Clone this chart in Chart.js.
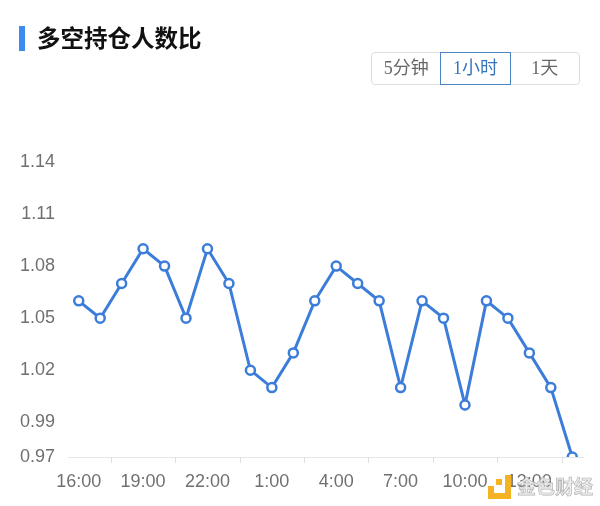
<!DOCTYPE html>
<html>
<head>
<meta charset="utf-8">
<script src="https://cdn.jsdelivr.net/npm/chart.js@4/dist/chart.umd.min.js"></script>
<style>
  body { margin: 0; background: #fff; font-family: "Noto Sans CJK SC", sans-serif; }
  #wrap { position: relative; width: 600px; height: 506px; overflow: hidden; }
  #wrap canvas { position: absolute; left: 0; top: 0; }
  .title { position: absolute; left: 19px; top: 21px; font-size: 23.5px; font-weight: bold; color: #111; line-height: 32px; white-space: nowrap; }
  .title .bar { display: inline-block; width: 6px; height: 25px; background: #3c8cf0; vertical-align: -4px; margin-right: 12px; }
  .tabs { position: absolute; left: 371px; top: 52px; width: 209px; height: 33px; border: 1px solid #ddd; border-radius: 4px; box-sizing: border-box; display: flex; }
  .tabs div { flex: 1; text-align: center; line-height: 31px; font-size: 18px; color: #666; font-family: "Liberation Serif", "Noto Sans CJK SC", serif; white-space: nowrap; }
  .tabs div.active { border: 1.5px solid #4a86c6; margin: -1px 0; line-height: 30px; color: #3a74b8; }
  .wm { position: absolute; left: 488px; top: 468px; height: 34px; display: flex; align-items: center; white-space: nowrap; }
  .wm .logo { position: relative; width: 23px; height: 24px; margin-right: 6px; margin-top: 4px; }
  .wm .logo span { position: absolute; background: #f5b324; }
  .wm .txt { font-size: 19px; color: rgba(235, 235, 235, 0.85); font-weight: bold; -webkit-text-stroke: 0.7px #b5b5b5; }
</style>
</head>
<body>
<div id="wrap">
  <canvas id="ratioChart" width="600" height="506"></canvas>
  <div class="title"><span class="bar"></span>多空持仓人数比</div>
  <div class="tabs">
    <div>5分钟</div>
    <div class="active">1小时</div>
    <div>1天</div>
  </div>
  <div class="wm">
    <div class="logo">
      <span style="left:0;top:11px;width:6px;height:13px"></span>
      <span style="left:0;top:18px;width:23px;height:6px"></span>
      <span style="left:17px;top:0;width:6px;height:24px"></span>
      <span style="left:8px;top:4px;width:6px;height:6px"></span>
    </div>
    <div class="txt">金色财经</div>
  </div>
</div>
<script>
const hours = [
  "16:00", "17:00", "18:00", "19:00", "20:00", "21:00", "22:00", "23:00",
  "0:00", "1:00", "2:00", "3:00", "4:00", "5:00", "6:00", "7:00",
  "8:00", "9:00", "10:00", "11:00", "12:00", "13:00", "14:00", "15:00",
];
const ratio = [
  1.06, 1.05, 1.07, 1.09, 1.08, 1.05, 1.09, 1.07,
  1.02, 1.01, 1.03, 1.06, 1.08, 1.07, 1.06, 1.01,
  1.06, 1.05, 1.0, 1.06, 1.05, 1.03, 1.01, 0.97,
];
const yTicks = [0.97, 0.99, 1.02, 1.05, 1.08, 1.11, 1.14];
const labelEvery = 3;

// small tick marks under the axis, between the shown labels
const axisMarks = {
  id: "axisMarks",
  afterDraw(chart) {
    const x = chart.scales.x;
    const ctx = chart.ctx;
    ctx.save();
    ctx.strokeStyle = "#e0e0e0";
    ctx.lineWidth = 1;
    for (let i = 1; i + 1 < hours.length; i += labelEvery) {
      const px = Math.round((x.getPixelForValue(i) + x.getPixelForValue(i + 1)) / 2) + 0.5;
      ctx.beginPath();
      ctx.moveTo(px, x.top);
      ctx.lineTo(px, x.top + 6);
      ctx.stroke();
    }
    ctx.restore();
  },
};

const ctx = document.getElementById("ratioChart").getContext("2d");
const ratioChart = new Chart(ctx, {
  type: "line",
  data: {
    labels: hours,
    datasets: [
      {
        data: ratio,
        borderColor: "#3b7dd8",
        borderWidth: 3,
        pointRadius: 4.5,
        pointBorderWidth: 2.5,
        pointBackgroundColor: "#fff",
        pointBorderColor: "#3b7dd8",
        tension: 0,
      },
    ],
  },
  options: {
    responsive: false,
    animation: false,
    layout: { padding: { top: 162, right: 17, left: 0, bottom: 0 } },
    plugins: { legend: { display: false }, tooltip: { enabled: false } },
    scales: {
      x: {
        offset: true,
        grid: { display: false, drawTicks: false },
        border: { display: true, color: "#e6e6e6", width: 1 },
        ticks: {
          autoSkip: false,
          maxRotation: 0,
          padding: 14,
          color: "#707070",
          font: { size: 18, family: "Liberation Sans, Arial, sans-serif" },
          callback: (v, i) => (i % labelEvery === 0 ? hours[i] : ""),
        },
        afterFit: (s) => { s.height = 49; },
      },
      y: {
        min: 0.97,
        max: 1.14,
        grid: { display: false, drawTicks: false },
        border: { display: false },
        afterBuildTicks: (s) => { s.ticks = yTicks.map((v) => ({ value: v })); },
        ticks: {
          padding: 13,
          color: "#707070",
          font: { size: 18, family: "Liberation Sans, Arial, sans-serif" },
          callback: (v) => Number(v).toFixed(2),
        },
        afterFit: (s) => { s.width = 68; },
      },
    },
  },
  plugins: [axisMarks],
});
</script>
</body>
</html>
